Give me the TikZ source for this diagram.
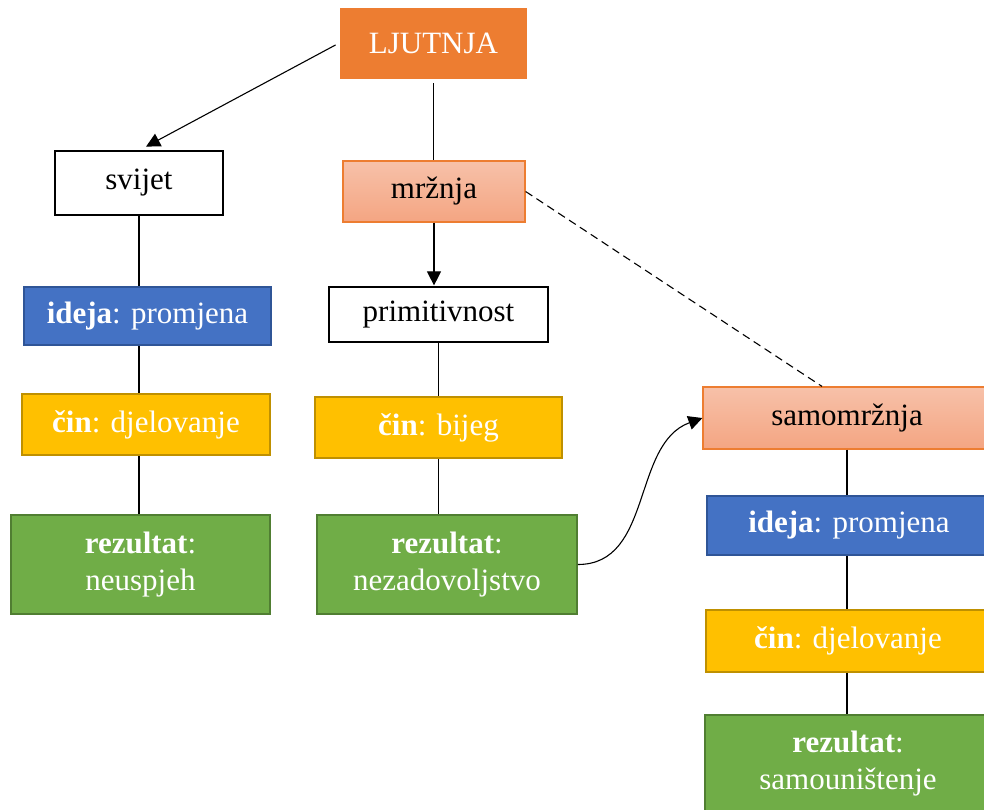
\documentclass[tikz,border=0pt]{standalone}
\usepackage{fontspec}
\setmainfont{Liberation Serif}
\usetikzlibrary{arrows.meta}

\definecolor{ljutorange}{HTML}{ED7D31}
\definecolor{salmontop}{HTML}{F7C1A9}
\definecolor{salmonbot}{HTML}{F4A582}
\definecolor{idejablue}{HTML}{4472C4}
\definecolor{idejaline}{HTML}{2F5597}
\definecolor{cinyellow}{HTML}{FFC000}
\definecolor{cinline}{HTML}{BF9000}
\definecolor{rezgreen}{HTML}{70AD47}
\definecolor{rezline}{HTML}{507E32}

\begin{document}
\begin{tikzpicture}[x=1pt,y=-1pt,thick,
        box/.style={rectangle,inner sep=0pt,align=center,line width=1.6pt,
            font=\fontsize{31}{37}\selectfont},
        rootbox/.style={box,fill=ljutorange,text=white},
        plainbox/.style={box,fill=white,draw=black,line width=1.2pt},
        hatebox/.style={box,top color=salmontop,bottom color=salmonbot,draw=ljutorange,line width=1.2pt},
        ideabox/.style={box,fill=idejablue,draw=idejaline,text=white},
        actbox/.style={box,fill=cinyellow,draw=cinline,text=white},
        resbox/.style={box,fill=rezgreen,draw=rezline,text=white},
        link/.style={-,line width=1.1pt},
        arr/.style={-{Triangle[length=14pt,width=14pt]},line width=1.1pt}]

    \useasboundingbox (0,0) rectangle (984,809);
    \clip (0,0) rectangle (984,809);

    \node[rootbox, minimum width=187pt, minimum height=71pt] (ljutnja) at (433.5,43) {LJUTNJA};

    % left column
    \node[plainbox, minimum width=168pt, minimum height=64pt] (svijet) at (139,183) {svijet};
    \node[ideabox, minimum width=247pt, minimum height=58pt] (idejaL) at (147.5,316) {\textbf{ideja}: promjena};
    \node[actbox, minimum width=248pt, minimum height=61pt] (cinL) at (146,424.5) {\textbf{čin}: djelovanje};
    \node[resbox, minimum width=259pt, minimum height=99pt] (rezL) at (140.5,564.5) {\textbf{rezultat}:\\neuspjeh};

    % middle column
    \node[hatebox, minimum width=182pt, minimum height=61pt] (mrznja) at (434,191.5) {mržnja};
    \node[plainbox, minimum width=219pt, minimum height=55pt] (primit) at (438.5,314.5) {primitivnost};
    \node[actbox, minimum width=247pt, minimum height=61pt] (cinM) at (438.5,427.5) {\textbf{čin}: bijeg};
    \node[resbox, minimum width=260pt, minimum height=99pt] (rezM) at (447,564.5) {\textbf{rezultat}:\\nezadovoljstvo};

    % right column
    \node[hatebox, minimum width=288pt, minimum height=62pt] (samom) at (847,418) {samomržnja};
    \node[ideabox, minimum width=284pt, minimum height=59pt] (idejaR) at (849,525.5) {\textbf{ideja}: promjena};
    \node[actbox, minimum width=284pt, minimum height=62pt] (cinR) at (848,641) {\textbf{čin}: djelovanje};
    \node[resbox, minimum width=286pt, minimum height=98pt] (rezR) at (848,764) {\textbf{rezultat}:\\samouništenje};

    \path
    (ljutnja.west) edge [arr, shorten <=4pt, shorten >=8pt] (svijet.north)
    (ljutnja) edge [link, shorten <=4pt] (ljutnja |- mrznja.north)
    (mrznja) edge [arr, shorten >=1pt] (mrznja |- primit.north)
    (mrznja.east) edge [link, dash pattern=on 8pt off 5pt] ([xshift=-25pt]samom.north)
    (svijet) edge [link] (svijet |- idejaL.north)
    (svijet |- idejaL.south) edge [link] (svijet |- cinL.north)
    (svijet |- cinL.south) edge [link] (svijet |- rezL.north)
    (primit) edge [link] (primit |- cinM.north)
    (primit |- cinM.south) edge [link] (primit |- rezM.north)
    (rezM.east) edge [arr, out=0, in=200] (samom.west)
    (samom) edge [link] (samom |- idejaR.north)
    (samom |- idejaR.south) edge [link] (samom |- cinR.north)
    (samom |- cinR.south) edge [link] (samom |- rezR.north);

\end{tikzpicture}
\end{document}
